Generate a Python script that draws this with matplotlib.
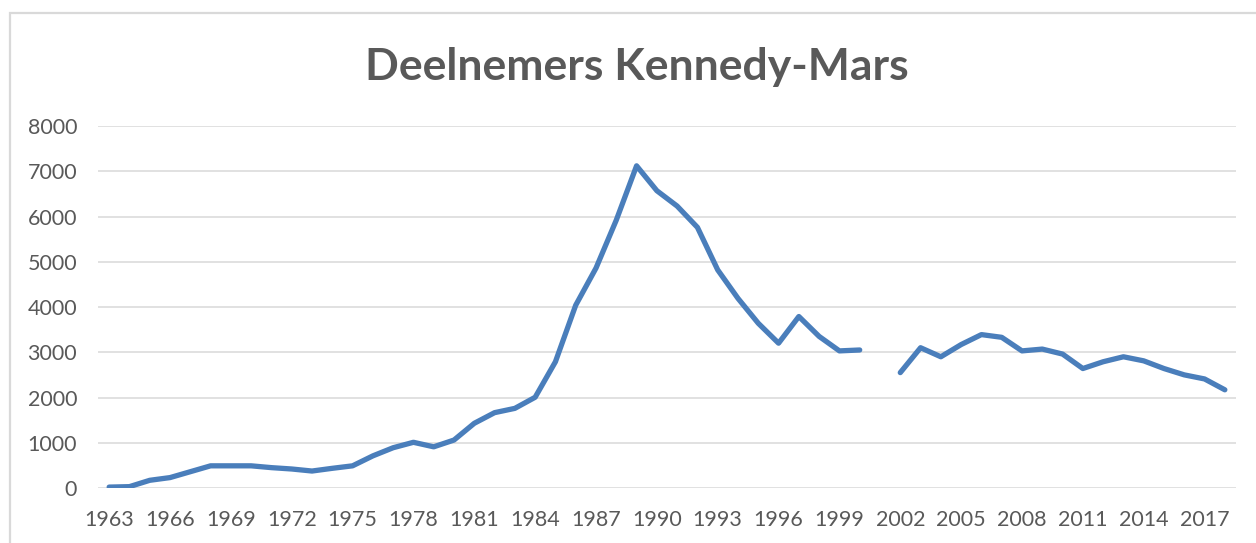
import numpy as np
import matplotlib
matplotlib.use("Agg")
import matplotlib.pyplot as plt
from matplotlib.patches import Rectangle

# Deelnemers Kennedy-Mars per jaar (2001 ontbreekt)
years = list(range(1963, 2019))
participants = [
    20, 30, 170, 230, 360, 490, 490, 490, 450, 420,   # 1963-1972
    375, 435, 490, 710, 890, 1010, 910, 1060, 1430, 1665,  # 1973-1982
    1760, 2005, 2790, 4040, 4860, 5920, 7120, 6570, 6230, 5760,  # 1983-1992
    4820, 4190, 3640, 3200, 3790, 3350, 3030, 3050, np.nan, 2550,  # 1993-2002
    3100, 2900, 3170, 3390, 3330, 3030, 3070, 2960, 2640, 2790,  # 2003-2012
    2900, 2810, 2640, 2500, 2410, 2170,  # 2013-2018
]
xtick_years = list(range(1963, 2019, 3))
yticks = list(range(0, 8001, 1000))

W, H = 1256, 543
fig = plt.figure(figsize=(W / 100, H / 100), dpi=100)
ax = fig.add_axes([98 / W, 1 - 488 / H, (1236 - 98) / W, (488 - 126) / H])

ax.plot(years, participants, color="#4a7ebb", lw=3.8,
        solid_joinstyle="round", solid_capstyle="round")

ax.set_xlim(1962.45, 2018.55)
ax.set_ylim(0, 8000)
ax.set_xticks(xtick_years)
ax.set_yticks(yticks)
ax.grid(axis="y", color="#d9d9d9", lw=1.1)
ax.set_axisbelow(True)
for s in ax.spines.values():
    s.set_visible(False)
ax.tick_params(length=0, labelsize=15.5, labelcolor="#595959")
ax.tick_params(axis="y", pad=15)
ax.tick_params(axis="x", pad=16)
for lab in ax.get_xticklabels() + ax.get_yticklabels():
    lab.set_family("Lato")

fig.text(637 / W, 1 - 80 / H, "Deelnemers Kennedy-Mars", ha="center", va="baseline",
         fontsize=32, fontweight="bold", color="#595959", family="Lato")

# grijze kaderrand van de grafiek (loopt buiten beeld door)
fig.patches.append(Rectangle((10 / W, -0.1), 1.2, 1 - 13 / H + 0.1,
                             transform=fig.transFigure, fill=False,
                             edgecolor="#d9d9d9", lw=1.6))

fig.savefig("out.png", dpi=100)
